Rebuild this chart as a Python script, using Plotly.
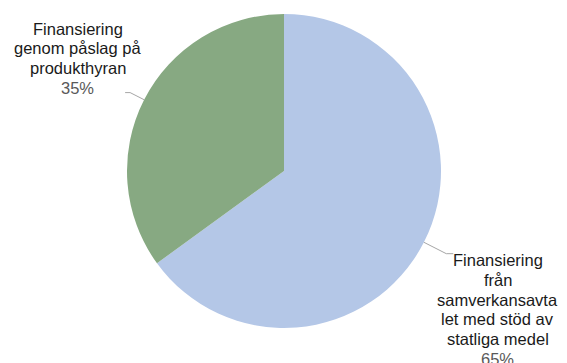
import math
import plotly.graph_objects as go

labels = ["Finansiering från samverkansavtalet med stöd av statliga medel",
          "Finansiering genom påslag på produkthyran"]
label_lines = [["Finansiering", "från", "samverkansavta", "let med stöd av", "statliga medel"],
               ["Finansiering", "genom påslag på", "produkthyran"]]
values = [65, 35]
colors = ["#B4C7E7", "#87A982"]

W, H = 567, 363
cx, cy, R = 284, 171, 157
FS = 16.5
LINE = 19.8

fig = go.Figure(go.Pie(
    labels=labels, values=values, sort=False, direction="clockwise", rotation=0,
    marker=dict(colors=colors, line=dict(width=0)),
    textinfo="none", hoverinfo="label+percent", showlegend=False,
    domain=dict(x=[(cx - R) / W, (cx + R) / W], y=[1 - (cy + R) / H, 1 - (cy - R) / H]),
))

def px(x, y):
    return x / W, 1 - y / H

total = sum(values)
start = 0.0
# label placement: (elbow radius factor, tail dx, text center x, first baseline y)
params = [(1.16, 7, 497.5, 265.5), (1.10, -5, 77.5, 34)]
shapes = []
annotations = []
for i, v in enumerate(values):
    frac = v / total
    mid = (start + frac / 2) * 2 * math.pi
    start += frac
    sx, sy = math.sin(mid), -math.cos(mid)
    ex, ey = cx + R * sx, cy + R * sy
    f, tail, tx, ty = params[i]
    bx, by = cx + R * f * sx, cy + R * f * sy
    pts = [(ex, ey), (bx, by), (bx + tail, by)]
    p = " L ".join(f"{px(a, b)[0]},{px(a, b)[1]}" for a, b in pts)
    shapes.append(dict(type="path", xref="paper", yref="paper", path="M " + p,
                       line=dict(color="#A6A6A6", width=1)))
    lines = label_lines[i] + [f"{round(frac * 100)}%"]
    for k, ln in enumerate(lines):
        is_pct = k == len(lines) - 1
        ax, ay = px(tx, ty + k * LINE - 0.33 * FS)
        annotations.append(dict(x=ax, y=ay, xref="paper", yref="paper", xanchor="center",
                                yanchor="middle", showarrow=False, text=ln,
                                font=dict(family="Liberation Sans, Arial", size=FS,
                                          color="#595959" if is_pct else "#1a1a1a")))

fig.update_layout(width=W, height=H, margin=dict(l=0, r=0, t=0, b=0),
                  paper_bgcolor="white", plot_bgcolor="white",
                  shapes=shapes, annotations=annotations)
fig.write_html("out.html", config={"displayModeBar": False},
               post_script="document.body.style.margin='0';")
